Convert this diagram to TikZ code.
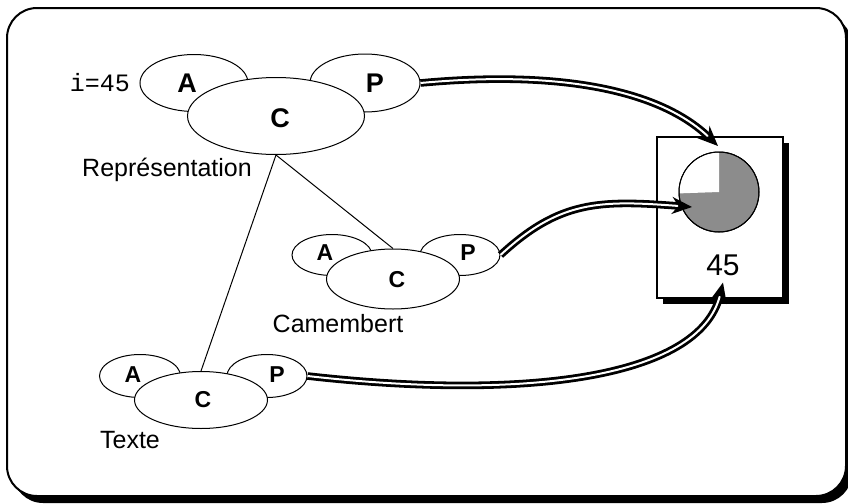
\documentclass[tikz,border=0pt]{standalone}
\usepackage{fontspec}
\setmainfont{Liberation Sans}
\newfontfamily\courier{Liberation Mono}
\usetikzlibrary{shapes.geometric,arrows.meta,positioning,calc}
\definecolor{piegray}{RGB}{140,140,140}

\begin{document}
\begin{tikzpicture}[x=0.5pt,y=-0.5pt]
\tikzset{part/.style={ellipse,draw,fill=white,line width=0.5pt,inner sep=0pt}}
\tikzset{bigletter/.style={font=\fontsize{13.5}{16}\selectfont\bfseries}}
\tikzset{letter/.style={font=\fontsize{11.5}{14}\selectfont\bfseries}}
\tikzset{caption/.style={font=\fontsize{12.5}{15}\selectfont}}
\tikzset{link/.style={draw,double=white,double distance=1pt,line width=1.4pt,-{Stealth[length=10pt,width=8.5pt]}}}

\useasboundingbox (0,0) rectangle (848,504);
% frame
\fill[rounded corners=15pt] (13,15) rectangle (852,503);
\draw[line width=1pt,fill=white,rounded corners=15pt] (7,8) rectangle (846,496);

% Representation
\node [part, minimum width=54pt, minimum height=28.5pt] (rA) at (194,83) {};
\node [part, minimum width=55pt, minimum height=29pt] (rP) at (365,83) {};
\node [part, minimum width=88.5pt, minimum height=38.5pt] (rC) at (276,116) {};
\node [bigletter] at (187,83) {A};
\node [bigletter] at (375,83) {P};
\node [bigletter] at (280,118) {C};
\node [font=\courier\fontsize{12.5}{15}\selectfont] (ival) at (100,83) {i=45};
\node [caption] (rlabel) at (167,170) {Représentation};

% Camembert
\node [part, minimum width=40pt, minimum height=20.5pt] (cA) at (332,255) {};
\node [part, minimum width=40pt, minimum height=20.5pt] (cP) at (460,255) {};
\node [part, minimum width=66.5pt, minimum height=30pt] (cC) at (393,279) {};
\node [letter] at (325,253) {A};
\node [letter] at (468,253) {P};
\node [letter] at (397,280) {C};
\node [caption] (clabel) at (338,324) {Camembert};

% Texte
\node [part, minimum width=40.5pt, minimum height=21.5pt] (tA) at (140,376) {};
\node [part, minimum width=40pt, minimum height=21.5pt] (tP) at (267,376) {};
\node [part, minimum width=66.5pt, minimum height=28.5pt] (tC) at (201,400) {};
\node [letter] at (133,375) {A};
\node [letter] at (277,375) {P};
\node [letter] at (203,400) {C};
\node [caption] (tlabel) at (130,440) {Texte};

\draw[line width=0.5pt] (rC.south) -- (tC.north);
\draw[line width=0.5pt] (rC.south) -- (cC.north);

% window
\fill (663,143) rectangle (789,304);
\draw[line width=1pt,fill=white] (657,137) rectangle (783,298);
\node [circle,draw,fill=piegray,minimum size=40pt,inner sep=0pt,line width=0.5pt] (pie) at (719,192) {};
\begin{scope}[shift={(pie.center)},x=1pt,y=1pt]
\fill[white] (0,0) -- (90:19.75) arc (90:182:19.75) -- cycle;
\end{scope}
\draw[line width=0.5pt] (pie) circle (20pt);
\node [font=\fontsize{15}{18}\selectfont] (num) at (723,265) {45};

\coordinate (pietop) at (718,146);
\coordinate (pieleft) at (692,207);
\draw[link] (rP.east) .. controls (560,70) and (660,90) .. (pietop);
\draw[link] (cP.east) .. controls (560,200) and (600,200) .. (pieleft);
\draw[link] (tP.east) .. controls (520,400) and (700,380) .. (num.south);
\end{tikzpicture}
\end{document}
